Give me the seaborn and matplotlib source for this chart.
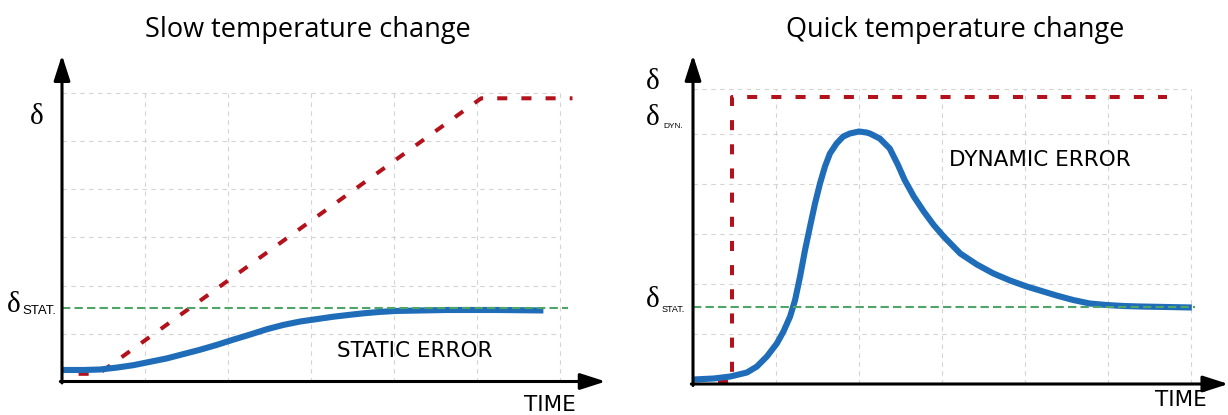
import matplotlib
matplotlib.use("Agg")
import matplotlib.pyplot as plt
import seaborn as sns

# ---- data (grid units) ----
# Slow temperature change
slow_ref_x = [0.2, 0.44, 5.05, 6.15]
slow_ref_y = [0.16, 0.16, 5.9, 5.9]
slow_sensor_x = [0.0, 0.26, 0.46, 0.66, 0.86, 1.06, 1.26, 1.46, 1.66, 1.86, 2.06, 2.27, 2.47,
                 2.67, 2.87, 3.07, 3.27, 3.47, 3.63, 3.83, 4.03, 4.33, 4.64, 5.24, 5.8]
slow_sensor_y = [0.24, 0.24, 0.25, 0.29, 0.34, 0.41, 0.48, 0.57, 0.66, 0.76, 0.87, 0.98, 1.09,
                 1.18, 1.25, 1.30, 1.35, 1.39, 1.42, 1.45, 1.47, 1.48, 1.49, 1.49, 1.48]
slow_stat = 1.54
slow_stat_end = 6.1

# Quick temperature change
quick_ref_x = [0.3, 0.47, 0.47, 5.71]
quick_ref_y = [0.05, 0.05, 5.74, 5.74]
quick_sensor_x = [0.0, 0.25, 0.45, 0.65, 0.77, 0.89, 1.01, 1.09, 1.17, 1.23, 1.29, 1.35, 1.41,
                  1.47, 1.53, 1.59, 1.65, 1.73, 1.81, 1.89, 2.0, 2.09, 2.13, 2.25, 2.37, 2.47,
                  2.55, 2.66, 2.78, 2.9, 3.02, 3.22, 3.42, 3.62, 3.82, 4.02, 4.22, 4.38, 4.58,
                  4.78, 4.98, 5.19, 5.39, 5.71, 6.01]
quick_sensor_y = [0.09, 0.11, 0.15, 0.23, 0.35, 0.55, 0.81, 1.05, 1.35, 1.68, 2.15, 2.68, 3.15,
                  3.61, 4.01, 4.35, 4.61, 4.81, 4.95, 5.01, 5.05, 5.03, 5.01, 4.91, 4.71, 4.38,
                  4.08, 3.75, 3.45, 3.18, 2.95, 2.61, 2.39, 2.21, 2.07, 1.95, 1.85, 1.77, 1.68,
                  1.61, 1.58, 1.56, 1.55, 1.54, 1.53]
quick_stat = 1.54
quick_stat_end = 6.05

slow_grid_x = [1, 2, 3, 4, 5, 6]
slow_grid_y = [1, 2, 3, 4, 5, 6]
quick_grid_x = [1, 2, 3, 4, 5, 6]
quick_grid_y = [1, 2, 3, 4, 5, 5.9]

BLUE = "#1f6db8"
RED = "#b3121c"
GREEN = "#4fa468"
GRID = "#d4d4d4"

sns.set_style("white")
plt.rcParams["font.family"] = ["Open Sans", "DejaVu Sans"]
plt.rcParams["text.color"] = "black"

W, H = 1228, 415
fig = plt.figure(figsize=(W / 100, H / 100), dpi=100)

# axes placed so that one grid unit = 83 px horizontally
ax1 = fig.add_axes([62 / W, (H - 381.5) / H, 6.6 * 83 / W, 7.0 * 48 / H])
ax1.set_xlim(0, 6.6)
ax1.set_ylim(0, 7.0)
ax2 = fig.add_axes([693 / W, (H - 384) / H, 6.45 * 83 / W, 6.8 * 50 / H])
ax2.set_xlim(0, 6.45)
ax2.set_ylim(0, 6.8)


def frame(ax, gx, gy, xtip, ytip):
    ax.set_axis_off()
    ax.hlines(gy, 0, max(gx), colors=GRID, lw=0.8, linestyles=(0, (4, 4)), zorder=1)
    ax.vlines(gx, 0, max(gy), colors=GRID, lw=0.8, linestyles=(0, (4, 4)), zorder=1)
    arrow = dict(arrowstyle="-|>,head_length=1.4,head_width=0.45", color="black",
                 lw=2.2, mutation_scale=11, shrinkA=0, shrinkB=0)
    ax.annotate("", xy=(xtip, 0), xytext=(-0.02, 0), arrowprops=arrow,
                annotation_clip=False, zorder=6)
    ax.annotate("", xy=(0, ytip), xytext=(0, -0.03), arrowprops=arrow,
                annotation_clip=False, zorder=6)


frame(ax1, slow_grid_x, slow_grid_y, 6.55, 6.8)
frame(ax2, quick_grid_x, quick_grid_y, 6.45, 6.58)

# slow panel
sns.lineplot(x=slow_ref_x, y=slow_ref_y, ax=ax1, color=RED, lw=2.9, sort=False,
             estimator=None, linestyle=(0, (2.5, 3.5)), zorder=3)
sns.lineplot(x=slow_sensor_x, y=slow_sensor_y, ax=ax1, color=BLUE, lw=4.4, sort=False,
             estimator=None, solid_capstyle="butt", solid_joinstyle="round", zorder=4)
ax1.hlines(slow_stat, 0, slow_stat_end, colors=GREEN, lw=1.5, linestyles=(0, (4, 2)), zorder=5)

# quick panel
sns.lineplot(x=quick_ref_x, y=quick_ref_y, ax=ax2, color=RED, lw=2.9, sort=False,
             estimator=None, linestyle=(0, (2.5, 3.5)), zorder=3)
sns.lineplot(x=quick_sensor_x, y=quick_sensor_y, ax=ax2, color=BLUE, lw=4.4, sort=False,
             estimator=None, solid_capstyle="butt", solid_joinstyle="round", zorder=4)
ax2.hlines(quick_stat, 0, quick_stat_end, colors=GREEN, lw=1.5, linestyles=(0, (4, 2)), zorder=5)

serif = ["Liberation Serif", "DejaVu Serif"]
sans = ["DejaVu Sans"]
small = ["Liberation Sans", "DejaVu Sans"]

# delta labels
ax1.text(-0.31, 5.5, "δ", family=serif, fontsize=21, ha="center", va="center", clip_on=False)
ax1.text(-0.58, 1.59, "δ", family=serif, fontsize=21, ha="center", va="center", clip_on=False)
ax1.text(-0.48, 1.4, "STAT.", family=small, fontsize=9.5, ha="left",
         va="baseline", clip_on=False)

ax2.text(-0.48, 6.04, "δ", family=serif, fontsize=21, ha="center", va="center", clip_on=False)
ax2.text(-0.48, 5.32, "δ", family=serif, fontsize=21, ha="center", va="center", clip_on=False)
ax2.text(-0.36, 5.12, "DYN.", family=small, fontsize=6, ha="left",
         va="baseline", clip_on=False)
ax2.text(-0.48, 1.68, "δ", family=serif, fontsize=21, ha="center", va="center", clip_on=False)
ax2.text(-0.38, 1.44, "STAT.", family=small, fontsize=6.5, ha="left",
         va="baseline", clip_on=False)

# annotations
ax1.text(3.31, 0.64, "STATIC ERROR", family=sans, fontsize=15.5, ha="left", va="center")
ax2.text(3.08, 4.48, "DYNAMIC ERROR", family=sans, fontsize=15.5, ha="left", va="center")
ax1.text(5.57, -0.49, "TIME", family=sans, fontsize=15.5, ha="left", va="center", clip_on=False)
ax2.text(5.57, -0.32, "TIME", family=sans, fontsize=15.5, ha="left", va="center", clip_on=False)

# titles
fig.text(308 / W, 1 - 30 / H, "Slow temperature change", fontsize=19.5, ha="center", va="center")
fig.text(955 / W, 1 - 30 / H, "Quick temperature change", fontsize=19.5, ha="center", va="center")

fig.savefig("out.png", dpi=100)
